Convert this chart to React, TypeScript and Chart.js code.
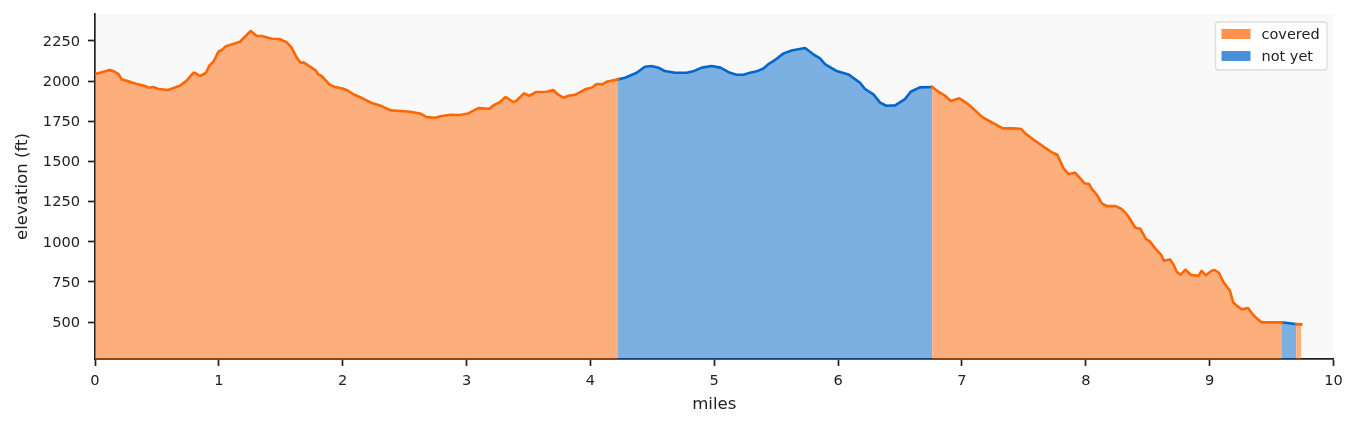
import { useEffect, useRef } from "react";
import { Chart, ChartConfiguration, registerables } from "chart.js";
Chart.register(...registerables);

const miles = [
  0, 0.008, 0.12, 0.16, 0.19, 0.215, 0.256, 0.337, 0.404, 0.43, 0.476, 0.51, 0.59, 0.646, 0.686, 0.74, 0.794, 0.807,
  0.848, 0.896, 0.923, 0.96, 0.996, 1.023, 1.058, 1.171, 1.257, 1.306, 1.346, 1.427, 1.494, 1.548, 1.588, 1.628, 1.66,
  1.687, 1.736, 1.784, 1.803, 1.83, 1.892, 1.938, 2.005, 2.045, 2.086, 2.167, 2.234, 2.3, 2.388, 2.463, 2.543, 2.624,
  2.678, 2.745, 2.8, 2.867, 2.947, 3.014, 3.095, 3.184, 3.222, 3.27, 3.316, 3.377, 3.4, 3.464, 3.507, 3.56, 3.647, 3.7,
  3.733, 3.78, 3.822, 3.876, 3.957, 4.01, 4.05, 4.096, 4.13, 4.223, 4.28, 4.374, 4.44, 4.495, 4.549, 4.6, 4.683, 4.777,
  4.83, 4.899, 4.98, 5.05, 5.127, 5.18, 5.235, 5.289, 5.343, 5.397, 5.437, 5.49, 5.56, 5.625, 5.733, 5.8, 5.854, 5.894,
  5.989, 6.083, 6.177, 6.217, 6.285, 6.339, 6.39, 6.46, 6.54, 6.586, 6.66, 6.759, 6.823, 6.864, 6.91, 6.98, 7.05, 7.146,
  7.172, 7.33, 7.415, 7.48, 7.51, 7.6, 7.725, 7.77, 7.82, 7.86, 7.913, 7.95, 7.99, 8.026, 8.05, 8.09, 8.13, 8.17, 8.24,
  8.28, 8.32, 8.345, 8.4, 8.44, 8.486, 8.515, 8.56, 8.61, 8.63, 8.68, 8.71, 8.734, 8.765, 8.805, 8.85, 8.91, 8.935,
  8.97, 9.016, 9.04, 9.075, 9.11, 9.164, 9.19, 9.22, 9.26, 9.31, 9.345, 9.38, 9.42, 9.584, 9.698, 9.74,
];
const elevation = [
  2044, 2044, 2069, 2058, 2044, 2011, 2003, 1982, 1970, 1959, 1963, 1951, 1945, 1961, 1971, 2003, 2052, 2052, 2032,
  2052, 2096, 2125, 2183, 2194, 2218, 2245, 2312, 2281, 2281, 2264, 2262, 2241, 2208, 2148, 2115, 2115, 2090, 2065,
  2042, 2032, 1980, 1963, 1953, 1940, 1918, 1890, 1864, 1849, 1818, 1814, 1809, 1799, 1776, 1772, 1783, 1791, 1789,
  1799, 1832, 1828, 1851, 1870, 1901, 1870, 1876, 1924, 1909, 1932, 1934, 1945, 1920, 1897, 1909, 1915, 1949, 1959,
  1982, 1980, 1996, 2011, 2021, 2052, 2090, 2094, 2084, 2063, 2052, 2052, 2061, 2084, 2094, 2084, 2052, 2040, 2040,
  2052, 2061, 2079, 2106, 2131, 2173, 2191, 2206, 2167, 2142, 2106, 2063, 2042, 1990, 1951, 1918, 1866, 1847, 1849,
  1888, 1934, 1961, 1963, 1928, 1909, 1876, 1893, 1857, 1789, 1772, 1706, 1706, 1702, 1675, 1623, 1557, 1542, 1457,
  1422, 1430, 1399, 1364, 1359, 1328, 1291, 1239, 1222, 1222, 1208, 1181, 1156, 1087, 1081, 1017, 1004, 959, 917, 882,
  890, 855, 813, 795, 826, 793, 788, 819, 791, 819, 824, 807, 751, 695, 623, 601, 579, 587, 550, 523, 498, 498, 487,
  486,
];

// mile ranges of each status, in order along the route
const coveredRanges = [
  [0, 4.223],
  [6.759, 9.584],
  [9.698, 9.74],
];
const notYetRanges = [
  [4.223, 6.759],
  [9.584, 9.698],
];
const xTicks = [0, 1, 2, 3, 4, 5, 6, 7, 8, 9, 10];
const yTicks = [500, 750, 1000, 1250, 1500, 1750, 2000, 2250];
const legendLabels = ["covered", "not yet"];

const FONT = "'DejaVu Sans', sans-serif";
const INK = "#222222";
const ORANGE = "#ff6600";
const BLUE = "#0066cc";
const ORANGE_FILL = "rgba(255, 102, 0, 0.5)";
const BLUE_FILL = "rgba(0, 102, 204, 0.5)";
const LEGEND_SWATCHES = ["#ff914d", "#4a90d9"];

const pointsIn = ([from, to]: number[]) =>
  miles.map((x, i) => ({ x, y: elevation[i] })).filter((p) => p.x >= from && p.x <= to);

const stretch = (range: number[], label: string, line: string, fill: string) => ({
  label,
  data: pointsIn(range),
  borderColor: line,
  backgroundColor: fill,
  borderWidth: 2.6,
  borderCapStyle: "square" as const,
  borderJoinStyle: "round" as const,
  pointRadius: 0,
  tension: 0,
  fill: "start",
});

const panelAndLegend = {
  id: "panelAndLegend",
  beforeDraw(chart: Chart) {
    const { ctx, chartArea: a } = chart;
    ctx.save();
    ctx.fillStyle = "#f9f9f9";
    ctx.fillRect(a.left, a.top, a.width, a.height);
    ctx.restore();
  },
  afterDraw(chart: Chart) {
    const { ctx, chartArea: a } = chart;
    const left = a.right - 118;
    const top = a.top + 8;
    ctx.save();
    ctx.beginPath();
    ctx.roundRect(left, top, 111.5, 48, 3);
    ctx.fillStyle = "rgba(255,255,255,0.8)";
    ctx.fill();
    ctx.strokeStyle = "#dddddd";
    ctx.lineWidth = 1.3;
    ctx.stroke();
    ctx.font = `14.5px ${FONT}`;
    ctx.textBaseline = "middle";
    legendLabels.forEach((label, i) => {
      ctx.fillStyle = LEGEND_SWATCHES[i];
      ctx.fillRect(left + 6, top + 7 + i * 22, 29, 10);
      ctx.fillStyle = INK;
      ctx.fillText(label, left + 46, top + 13 + i * 22);
    });
    ctx.restore();
  },
};

export default function App() {
  const ref = useRef<HTMLCanvasElement>(null);

  useEffect(() => {
    const config: ChartConfiguration = {
      type: "line",
      data: {
        datasets: [
          ...coveredRanges.map((r) => stretch(r, legendLabels[0], ORANGE, ORANGE_FILL)),
          ...notYetRanges.map((r) => stretch(r, legendLabels[1], BLUE, BLUE_FILL)),
        ] as any,
      },
      options: {
        animation: false,
        responsive: false,
        devicePixelRatio: 1,
        layout: { padding: { top: 14, right: 25.5, left: 0, bottom: 0 } },
        plugins: { legend: { display: false }, tooltip: { enabled: false } },
        scales: {
          x: {
            type: "linear",
            min: 0,
            max: 10,
            afterBuildTicks: (axis) => {
              axis.ticks = xTicks.map((value) => ({ value }));
            },
            afterFit: (axis) => {
              axis.height = 70;
              axis.paddingLeft = 0;
              axis.paddingRight = 0;
            },
            title: { display: true, text: "miles", color: INK, font: { family: FONT, size: 16.6 }, padding: { top: 0, bottom: 14 } },
            grid: { drawOnChartArea: false, tickLength: 7, tickColor: INK, tickWidth: 1.7 },
            border: { color: INK, width: 1.7 },
            ticks: { color: INK, font: { family: FONT, size: 14.6 }, maxRotation: 0, padding: 6, autoSkip: false, callback: (v) => String(v) },
          },
          y: {
            type: "linear",
            min: 270,
            max: 2418,
            afterBuildTicks: (axis) => {
              axis.ticks = yTicks.map((value) => ({ value }));
            },
            afterFit: (axis) => {
              axis.width = 95;
              axis.paddingTop = 0;
              axis.paddingBottom = 0;
            },
            title: { display: true, text: "elevation (ft)", color: INK, font: { family: FONT, size: 16.6 }, padding: { top: 13, bottom: 0 } },
            grid: { drawOnChartArea: false, tickLength: 7, tickColor: INK, tickWidth: 1.7 },
            border: { color: INK, width: 1.7 },
            ticks: { color: INK, font: { family: FONT, size: 14.6 }, padding: 8, labelOffset: 1, autoSkip: false, callback: (v) => String(v) },
          },
        },
      },
      plugins: [panelAndLegend],
    };
    const chart = new Chart(ref.current!, config);
    return () => {
      chart.destroy();
    };
  }, []);

  return (
    <div style={{ position: "fixed", left: 0, top: 0, width: 1359, height: 429, background: "#ffffff" }}>
      <canvas ref={ref} width={1359} height={429} style={{ display: "block" }}></canvas>
    </div>
  );
}
